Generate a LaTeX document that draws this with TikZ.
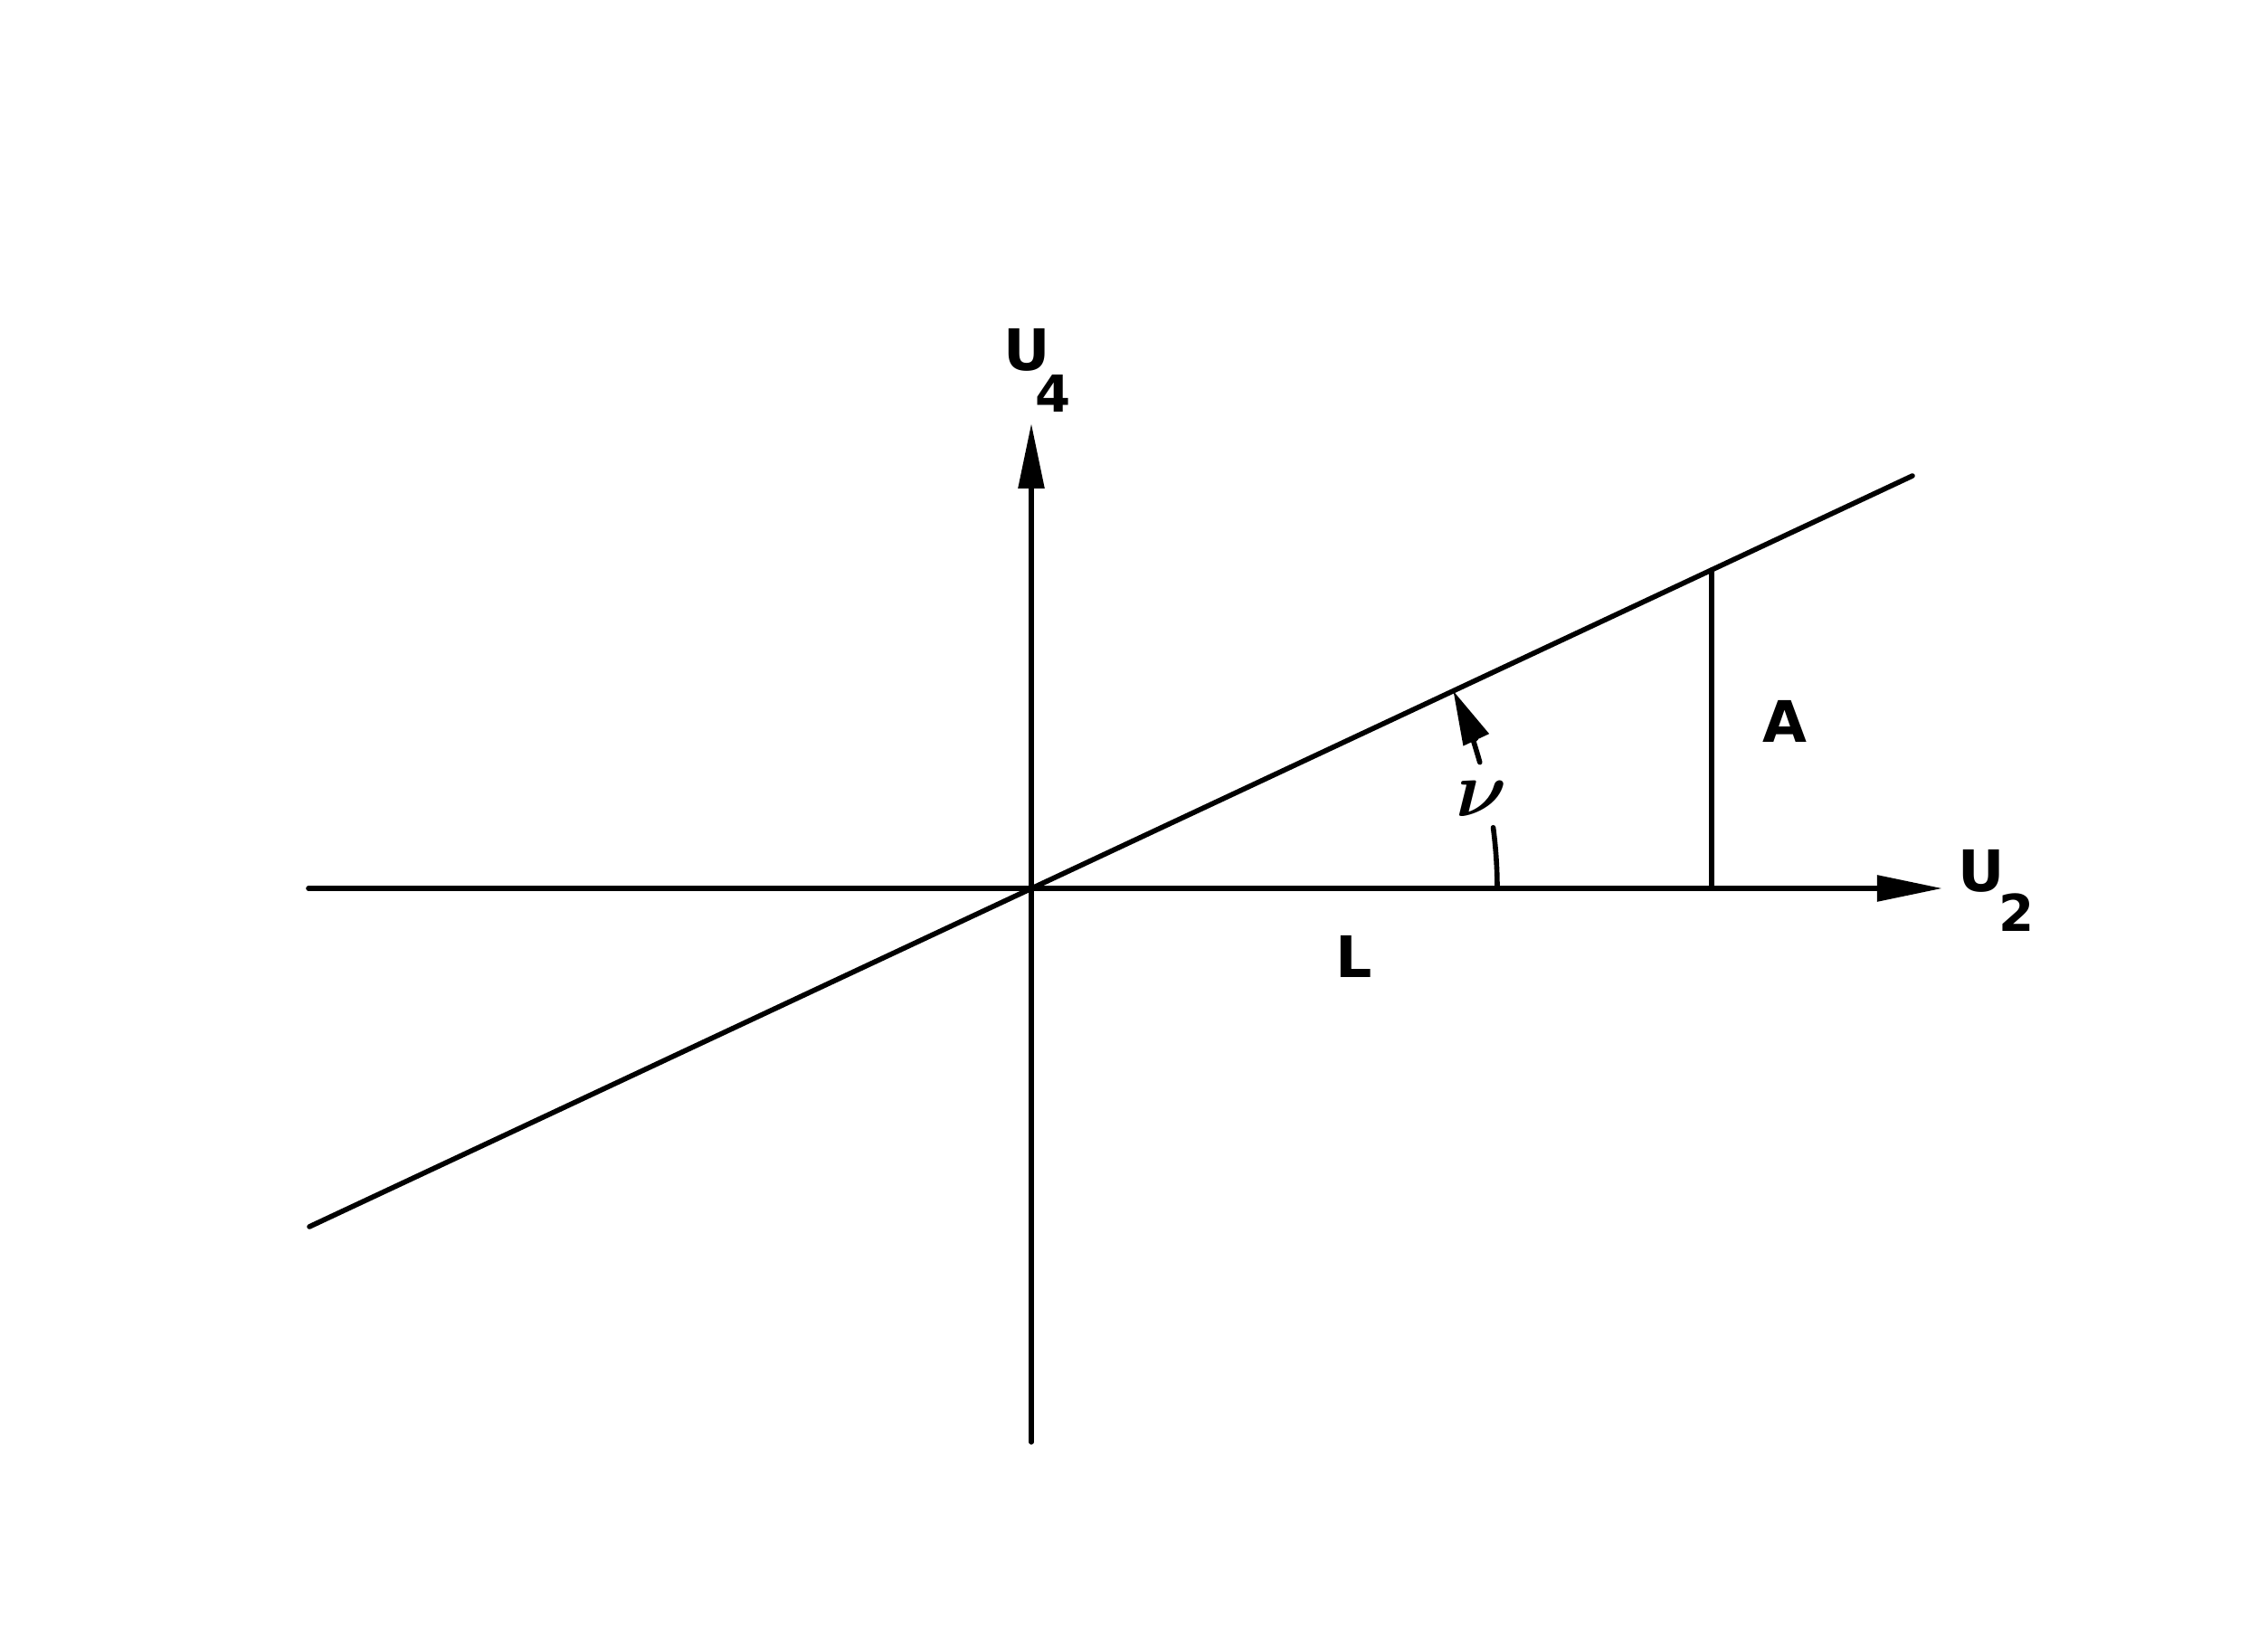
\documentclass[tikz,border=0pt]{standalone}
\usepackage{amsmath}
\usepackage{fontspec}
\setmainfont{DejaVu Sans}
\usetikzlibrary{arrows.meta}
\tikzset{
  axisline/.style={line width=1.6pt, line cap=round},
  lbl/.style={font=\fontsize{18}{20}\selectfont\bfseries, inner sep=0pt},
  sublbl/.style={font=\fontsize{16}{18}\selectfont\bfseries, inner sep=0pt}
}
\begin{document}
\begin{tikzpicture}
      \useasboundingbox (-11.40,-8.43) rectangle (13.67,9.82);
      \coordinate (O) at (0,0);
      \coordinate (xleft) at (-7.99,0);
      \coordinate (xright) at (10.07,0);
      \coordinate (ybottom) at (0,-6.12);
      \coordinate (ytop) at (0,5.14);
      \coordinate (sleft) at (-7.98,-3.74);
      \coordinate (sright) at (9.74,4.56);
      \coordinate (afoot) at (7.52,0);
      \coordinate (atop) at (7.52,3.52);
      % axes
      \draw[axisline, -{Triangle[length=7.2mm,width=2.8mm]}] (xleft) -- (xright);
      \draw[axisline, -{Triangle[length=7.2mm,width=2.8mm]}] (ybottom) -- (ytop);
      \draw[axisline] (sleft) -- (sright);
      \draw[axisline] (afoot) -- (atop);
      % angle
      \draw[axisline] ([shift={(0:5.15)}]O) arc[start angle=0, end angle=7.5, radius=5.15];
      \draw[axisline, -{Triangle[length=6mm,width=3mm]}] ([shift={(15.7:5.15)}]O) arc[start angle=15.7, end angle=25.1, radius=5.15];
      \node (nu) at (4.98,0.99) [font=\fontsize{24}{26}\selectfont] {$\boldsymbol{\nu}$};
      % labels
      \node (u4) at (-0.05,5.95) [lbl] {U};
      \node (u4sub) at (0.24,5.47) [sublbl] {4};
      \node (u2) at (10.50,0.19) [lbl] {U};
      \node (u2sub) at (10.89,-0.27) [sublbl] {2};
      \node (alab) at (8.33,1.85) [lbl] {A};
      \node (llab) at (3.57,-0.75) [lbl] {L};
\end{tikzpicture}
\end{document}
